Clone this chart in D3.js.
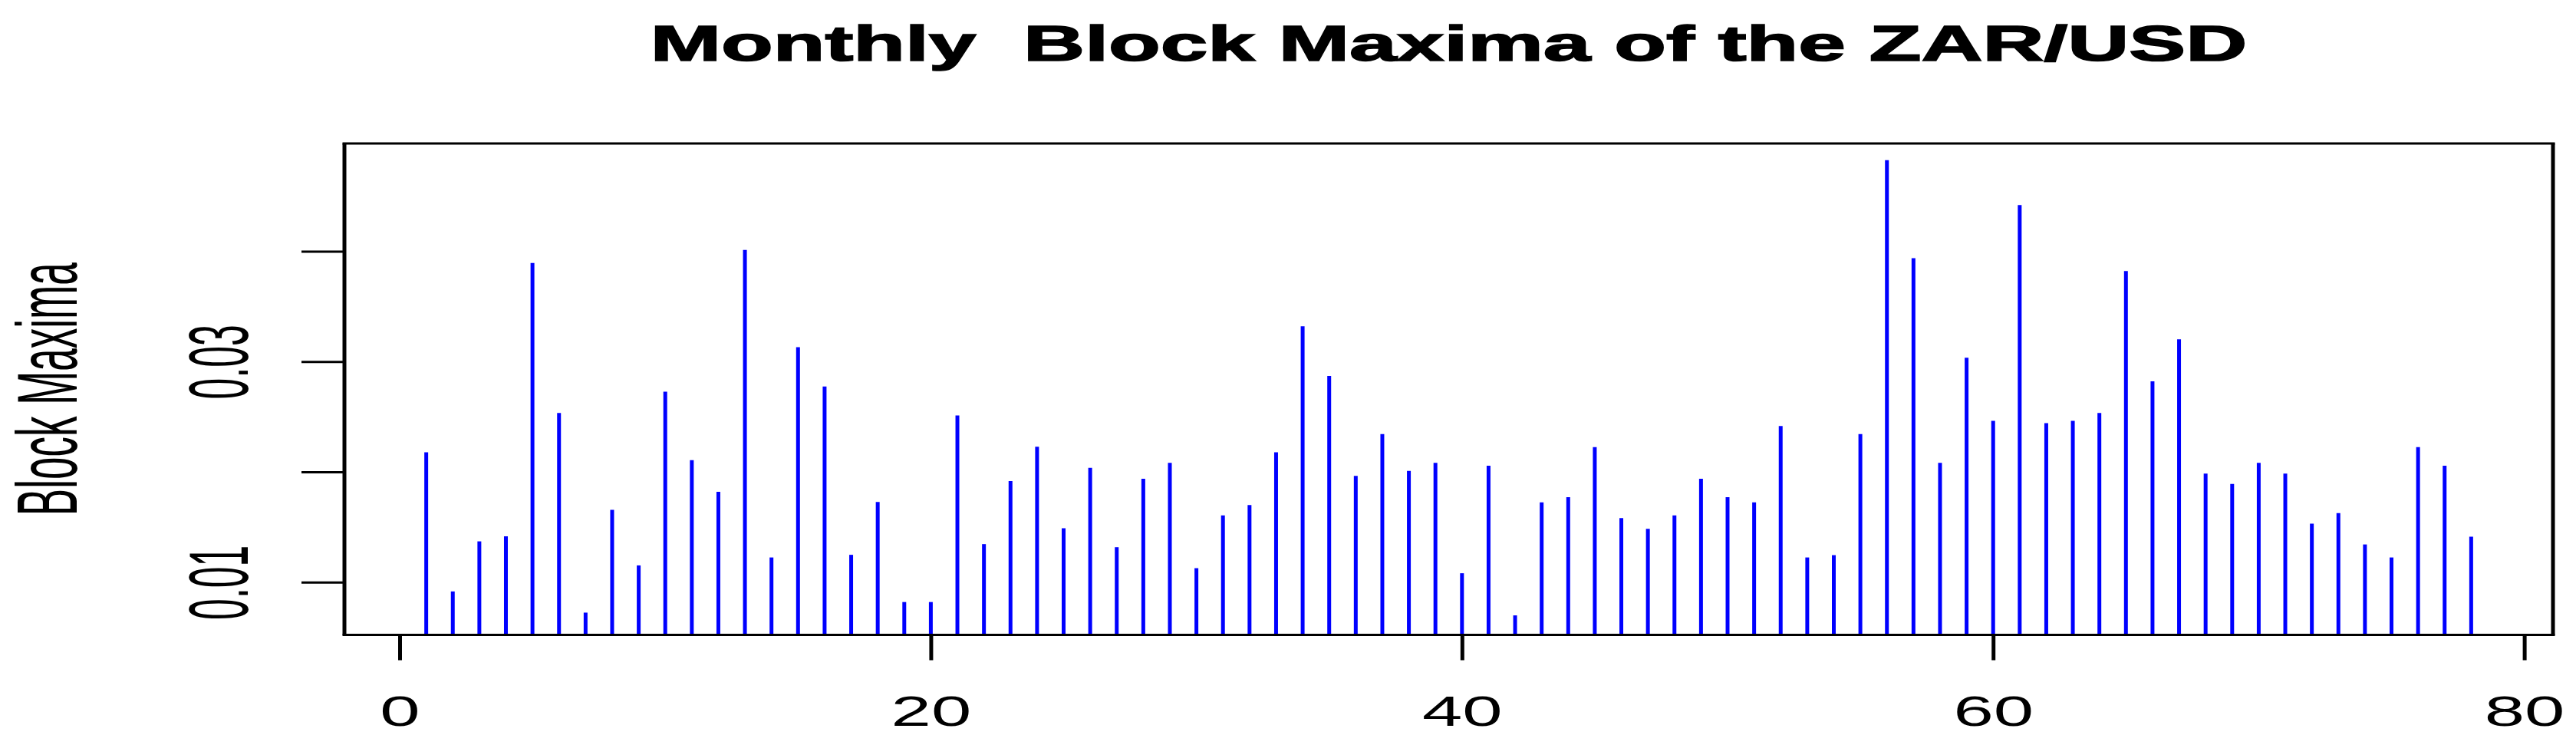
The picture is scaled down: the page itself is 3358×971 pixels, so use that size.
<!DOCTYPE html>
<html>
<head>
<meta charset="utf-8">
<script src="https://cdn.jsdelivr.net/npm/d3@7"></script>
<style>
  body { margin: 0; background: #fff; }
  text { font-family: "Liberation Sans", Arial, sans-serif; fill: #000; }
</style>
</head>
<body>
<script>
// month index 1..78 and the block maximum for each month
var months = d3.range(1, 79);
var blockMax = [
  0.02177, 0.00916, 0.01370, 0.01416, 0.03894, 0.02534, 0.00724, 0.01655, 0.01152, 0.02727,
  0.02106, 0.01820, 0.04012, 0.01224, 0.03130, 0.02773, 0.01248, 0.01727, 0.00820, 0.00820,
  0.02512, 0.01345, 0.01916, 0.02227, 0.01488, 0.02037, 0.01317, 0.01938, 0.02081, 0.01127,
  0.01606, 0.01699, 0.02177, 0.03320, 0.02870, 0.01963, 0.02342, 0.02009, 0.02081, 0.01081,
  0.02056, 0.00699, 0.01724, 0.01770, 0.02224, 0.01581, 0.01484, 0.01606, 0.01938, 0.01770,
  0.01724, 0.02416, 0.01224, 0.01245, 0.02342, 0.04826, 0.03938, 0.02081, 0.03034, 0.02463,
  0.04419, 0.02441, 0.02463, 0.02534, 0.03820, 0.02820, 0.03202, 0.01984, 0.01891, 0.02081,
  0.01984, 0.01531, 0.01627, 0.01342, 0.01224, 0.02224, 0.02056, 0.01413
];
var xTicks = [0, 20, 40, 60, 80];
var yTicks = [0.01, 0.02, 0.03, 0.04];
var yTickLabels = ["0.01", "", "0.03", ""];
var xDomain = [-2.08, 81.08];
var yDomain = [0.00522, 0.04977];

var width = 3358, height = 971;

var svg = d3.select("body").append("svg")
  .attr("width", width)
  .attr("height", height);

var x = d3.scaleLinear().domain(xDomain).range([449, 3328]);
var y = d3.scaleLinear().domain(yDomain).range([827.5, 187]);

// spikes (type = "h")
svg.append("g").selectAll("line")
  .data(blockMax)
  .join("line")
  .attr("x1", function(d, i) { return x(months[i]); })
  .attr("x2", function(d, i) { return x(months[i]); })
  .attr("y1", y.range()[0])
  .attr("y2", function(d) { return y(d); })
  .attr("stroke", "#0000ff")
  .attr("stroke-width", 5);

// x axis
var gx = svg.append("g")
  .attr("transform", "translate(0," + y.range()[0] + ")")
  .call(d3.axisBottom(x).tickValues(xTicks).tickSize(33).tickSizeOuter(0));
gx.select(".domain").remove();
gx.selectAll(".tick line").attr("stroke", "#000").attr("stroke-width", 5);
gx.selectAll(".tick text")
  .attr("y", null).attr("dy", null)
  .attr("transform", "translate(0,118.5) scale(1.68,1)")
  .attr("text-anchor", "middle")
  .style("font-size", "56px");

// y axis
var gy = svg.append("g")
  .attr("transform", "translate(" + x.range()[0] + ",0)")
  .call(d3.axisLeft(y).tickValues(yTicks).tickSize(56).tickSizeOuter(0)
    .tickFormat(function(d, i) { return yTickLabels[i]; }));
gy.select(".domain").remove();
gy.selectAll(".tick line").attr("stroke", "#000").attr("stroke-width", 3);
gy.selectAll(".tick text")
  .attr("x", null).attr("dy", null)
  .attr("transform", "translate(-126,0) scale(2.18,1) rotate(-90)")
  .attr("text-anchor", "middle")
  .style("font-size", "50px");

// box round the plot
var x0 = x.range()[0], x1 = x.range()[1], y0 = y.range()[1], y1 = y.range()[0];
var frame = svg.append("g").attr("stroke", "#000");
frame.append("line").attr("x1", x0 - 2.5).attr("x2", x1 + 2.5).attr("y1", y0).attr("y2", y0).attr("stroke-width", 3);
frame.append("line").attr("x1", x0 - 2.5).attr("x2", x1 + 2.5).attr("y1", y1).attr("y2", y1).attr("stroke-width", 3);
frame.append("line").attr("x1", x0).attr("x2", x0).attr("y1", y0).attr("y2", y1).attr("stroke-width", 5);
frame.append("line").attr("x1", x1).attr("x2", x1).attr("y1", y0).attr("y2", y1).attr("stroke-width", 5);

// title (a thin stroke makes it as heavy as the original)
svg.append("text")
  .attr("transform", "translate(" + (x0 + x1) / 2 + ",79) scale(1.69,1)")
  .attr("text-anchor", "middle")
  .style("font-size", "65.6px")
  .style("font-weight", "bold")
  .style("stroke", "#000")
  .style("stroke-width", "1.6px")
  .style("white-space", "pre")
  .text("Monthly  Block Maxima of the ZAR/USD");

// y axis title
svg.append("text")
  .attr("transform", "translate(100," + (y0 + y1) / 2 + ") scale(2.1,1) rotate(-90)")
  .attr("text-anchor", "middle")
  .style("font-size", "53px")
  .text("Block Maxima");
</script>
</body>
</html>
